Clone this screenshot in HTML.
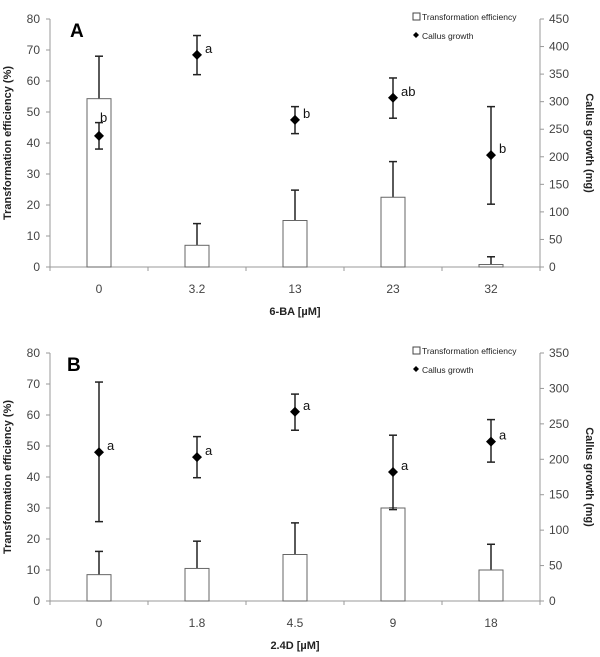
<!DOCTYPE html>
<html><head><meta charset="utf-8"><style>
body{margin:0;background:#fff}
svg{display:block;font-family:"Liberation Sans","DejaVu Sans",sans-serif}
</style></head><body>
<svg id="c" width="600" height="657" viewBox="0 0 600 657"></svg>
<script>
const catsA=["0","3.2","13","23","32"];
const barA=[54.3,7,15,22.5,0.8];
const barErrA=[68,14,24.8,34,3.3];
const callA=[238,385,267,307,203];
const callLoA=[214,349,242,270,114];
const callHiA=[262,420,291,343,291];
const letA=["b","a","b","ab","b"];
const rightTicksA=[0,50,100,150,200,250,300,350,400,450];

const catsB=["0","1.8","4.5","9","18"];
const barB=[8.5,10.5,15,30,10];
const barErrB=[16,19.3,25.2,30,18.3];
const callB=[210,203,267,182,225];
const callLoB=[112,174,241,129,196];
const callHiB=[309,232,292,234,256];
const letB=["a","a","a","a","a"];
const rightTicksB=[0,50,100,150,200,250,300,350];
const leftTicks=[0,10,20,30,40,50,60,70,80];

const NS="http://www.w3.org/2000/svg";
const svg=document.getElementById('c');
function mk(tag,attrs,parent,text){const e=document.createElementNS(NS,tag);for(const k in attrs)e.setAttribute(k,attrs[k]);if(text!==undefined)e.textContent=text;(parent||svg).appendChild(e);return e;}

function panel(o){
  const g=mk('g',{});
  
  
  const L=50,R=540,top=o.top,bot=o.bot,H=bot-top;
  const n=o.cats.length,cw=(R-L)/n;
  const xc=i=>L+cw*(i+0.5);
  const yl=v=>bot-v/80*H;
  const yr=v=>bot-v/o.rmax*H;
  let ax=mk('line',{x1:L,y1:top,x2:L,y2:bot,stroke:'#999'},g);
  
  ax=mk('line',{x1:R,y1:top,x2:R,y2:bot,stroke:'#999'},g);
  
  ax=mk('line',{x1:L,y1:bot,x2:R,y2:bot,stroke:'#999'},g);
  
  leftTicks.forEach(v=>{const y=yl(v);mk('line',{x1:L-4,y1:y,x2:L,y2:y,stroke:'#999'},g);
    const t=mk('text',{x:L-10,y:y+4,'text-anchor':'end','font-size':12,fill:'#444'},g,v);
    });
  o.rt.forEach(v=>{const y=yr(v);mk('line',{x1:R,y1:y,x2:R+4,y2:y,stroke:'#999'},g);
    const t=mk('text',{x:R+9,y:y+4,'font-size':12,fill:'#444'},g,v);
    });
  for(let i=0;i<=n;i++){const x=L+cw*i;mk('line',{x1:x,y1:bot,x2:x,y2:bot+4,stroke:'#999'},g);}
  o.cats.forEach((c,i)=>{const t=mk('text',{x:xc(i),y:bot+26,'text-anchor':'middle','font-size':12,fill:'#444'},g,c);
    });
  o.bar.forEach((v,i)=>{const x=xc(i);
    const e=mk('line',{x1:x,y1:yl(o.berr[i]),x2:x,y2:yl(v),stroke:'#222','stroke-width':1.5},g);
    
    mk('line',{x1:x-4,y1:yl(o.berr[i]),x2:x+4,y2:yl(o.berr[i]),stroke:'#222','stroke-width':1.5},g);
    const b=mk('rect',{x:x-12,y:yl(v),width:24,height:bot-yl(v),fill:'#fff',stroke:'#666'},g);
    });
  o.call.forEach((v,i)=>{const x=xc(i);
    const e=mk('line',{x1:x,y1:yr(o.lo[i]),x2:x,y2:yr(o.hi[i]),stroke:'#222','stroke-width':1.5},g);
    
    mk('line',{x1:x-4,y1:yr(o.lo[i]),x2:x+4,y2:yr(o.lo[i]),stroke:'#222','stroke-width':1.5},g);
    mk('line',{x1:x-4,y1:yr(o.hi[i]),x2:x+4,y2:yr(o.hi[i]),stroke:'#222','stroke-width':1.5},g);
    const y=yr(v);
    const p=mk('polygon',{points:`${x},${y-5} ${x+5},${y} ${x},${y+5} ${x-5},${y}`,fill:'#000'},g);
    
    const above=(o.id=='A'&&i==0);
    const t=mk('text',{x:above?x+1:x+8,y:above?y-14:y-2,'font-size':13,fill:'#111'},g,o.let[i]);
    });
  let t=mk('text',{x:o.id=='A'?70:67,y:top+18,'font-size':19,'font-weight':'bold'},g,o.id);
  
  t=mk('text',{transform:`translate(11,${(top+bot)/2}) rotate(-90)`,'text-anchor':'middle','font-size':11,'font-weight':'bold',fill:'#222'},g,'Transformation efficiency (%)');
  
  t=mk('text',{transform:`translate(586,${(top+bot)/2}) rotate(90)`,'text-anchor':'middle','font-size':11,'font-weight':'bold',fill:'#222'},g,'Callus growth (mg)');
  
  t=mk('text',{x:295,y:bot+48,'text-anchor':'middle','font-size':11,'font-weight':'bold',fill:'#222'},g,o.xt);
  
  const lg=mk('g',{},g);
  mk('rect',{x:413,y:top-6,width:7,height:7,fill:'#fff',stroke:'#444'},lg);
  t=mk('text',{x:422,y:top+1,'font-size':8.5,fill:'#222'},lg,'Transformation efficiency');
  
  const ly=top+20;
  mk('polygon',{points:`416,${ly-7} 419,${ly-4} 416,${ly-1} 413,${ly-4}`,fill:'#000'},lg);
  t=mk('text',{x:422,y:ly,'font-size':8.5,fill:'#222'},lg,'Callus growth');
  
}
panel({id:'A',top:19,bot:267,rmax:450,rt:rightTicksA,cats:catsA,bar:barA,berr:barErrA,call:callA,lo:callLoA,hi:callHiA,let:letA,xt:'6-BA [µM]'});
panel({id:'B',top:353,bot:601,rmax:350,rt:rightTicksB,cats:catsB,bar:barB,berr:barErrB,call:callB,lo:callLoB,hi:callHiB,let:letB,xt:'2.4D [µM]'});
</script>
</body></html>
